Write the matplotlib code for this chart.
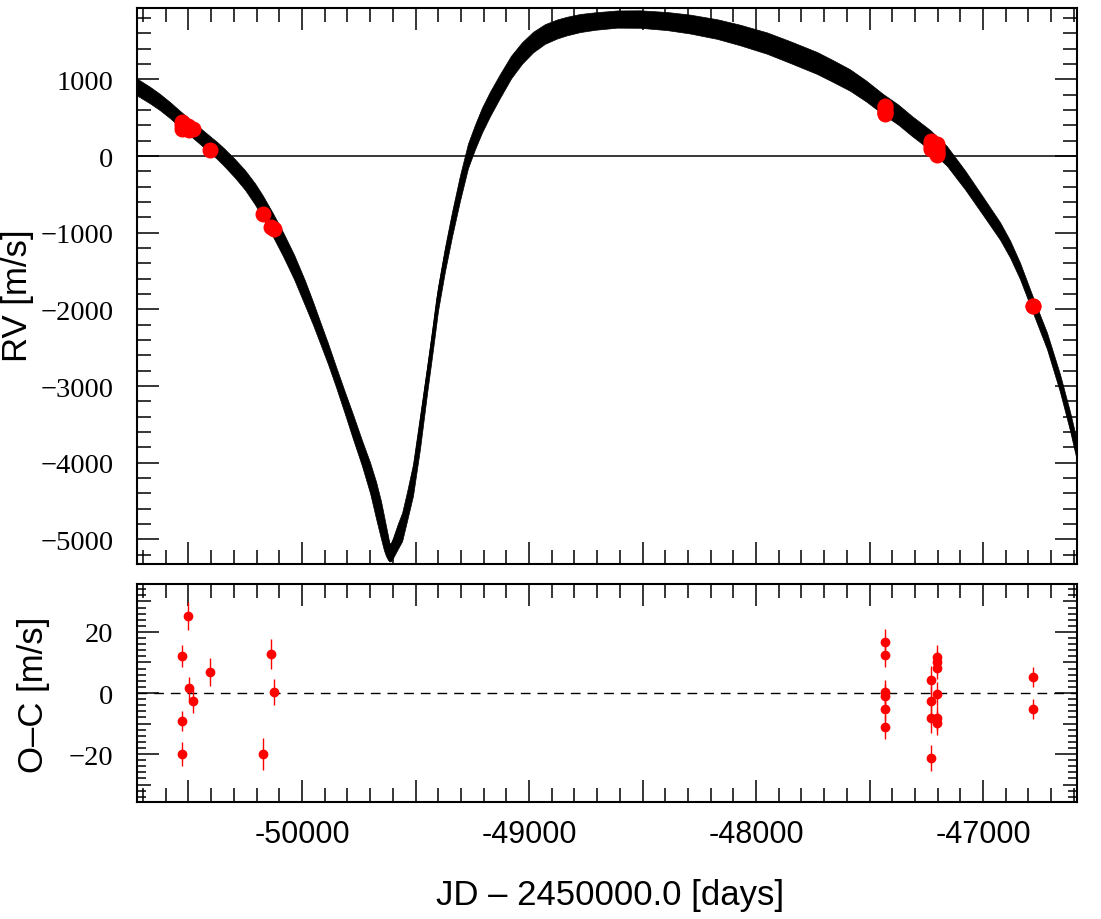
import matplotlib
matplotlib.use("Agg")
import matplotlib.pyplot as plt
from matplotlib.ticker import MultipleLocator, FixedLocator, FuncFormatter
import numpy as np

plt.rcParams['font.family'] = ['Liberation Sans', 'DejaVu Sans']

# ---- model curve: JD-2450000, RV centre, spread (half width) ----
model_jd = [-50727, -50670, -50626, -50582, -50537, -50493, -50449, -50405, -50374, -50344,
            -50295, -50251, -50207, -50172, -50128, -50084, -50035, -49987, -49952, -49921,
            -49885, -49850, -49811, -49775, -49736, -49700, -49674, -49652, -49639, -49630,
            -49621, -49615, -49608, -49599, -49590, -49577, -49559, -49537, -49511, -49480,
            -49449, -49423, -49401, -49370, -49339, -49304, -49269, -49238, -49207, -49172,
            -49128, -49079, -49031, -48982, -48930, -48877, -48833, -48775, -48709, -48612,
            -48511, -48392, -48291, -48172, -48070, -47952, -47850, -47731, -47661, -47586,
            -47515, -47441, -47374, -47313, -47233, -47159, -47079, -47000, -46925, -46881,
            -46837, -46780, -46718, -46661, -46617, -46586]
model_rv = [900, 795, 704, 600, 482, 372, 261, 150, 72, -13,
            -163, -313, -495, -665, -900, -1147, -1447, -1786, -2047, -2295,
            -2582, -2881, -3220, -3533, -3872, -4198, -4485, -4746, -4915, -5020,
            -5111, -5170, -5163, -5111, -5046, -4954, -4837, -4563, -4224, -3598,
            -2921, -2360, -1864, -1343, -887, -417, 0, 248, 469, 678,
            913, 1160, 1343, 1486, 1591, 1656, 1695, 1734, 1760, 1786,
            1786, 1760, 1721, 1656, 1578, 1473, 1356, 1213, 1108, 991,
            848, 678, 541, 391, 209, 0, -313, -652, -978, -1213,
            -1499, -1943, -2412, -2960, -3455, -3846]
model_spread = [110, 108, 106, 105, 105, 105, 106, 108, 111, 115,
                121, 128, 138, 146, 152, 156, 160, 162, 150, 142,
                136, 133, 143, 160, 166, 200, 240, 245, 225, 196,
                156, 117, 120, 130, 145, 165, 185, 190, 205, 215,
                170, 163, 156, 156, 160, 165, 160, 160, 162, 160,
                155, 148, 140, 134, 128, 124, 121, 118, 114, 112,
                114, 118, 123, 128, 134, 139, 142, 143, 142, 140,
                136, 132, 131, 130, 130, 128, 123, 118, 114, 111,
                107, 103, 107, 115, 123, 130]

# ---- observations ----
obs_jd = [-50529, -50529, -50529, -50502, -50498, -50480, -50405, -50172, -50137, -50123,
          -47432, -47432, -47432, -47432, -47432, -47432,
          -47229, -47229, -47229, -47229,
          -47203, -47203, -47203, -47203, -47203, -47203,
          -46780, -46780]
obs_rv = [443, 404, 352, 391, 339, 352, 78, -756, -926, -952,
          652, 639, 600, 574, 561, 548,
          196, 156, 117, 91,
          156, 117, 78, 52, 26, 13,
          -1956, -1950]
obs_oc = [12.1, -9.2, -20.0, 25.2, 1.6, -2.6, 6.9, -20.0, 12.8, 0.3,
          16.7, 12.5, 0.3, -1.0, -5.2, -11.1,
          4.3, -2.6, -8.2, -21.3,
          11.8, 10.2, 8.2, -0.3, -8.2, -9.8,
          5.2, -5.2]
obs_err = [3.5, 3.3, 4.0, 4.6, 3.8, 3.8, 4.5, 5.1, 4.9, 4.3,
           4.4, 4.0, 4.0, 4.0, 3.8, 4.0,
           4.4, 5.0, 5.0, 4.4,
           4.0, 3.5, 3.5, 4.0, 4.0, 4.0,
           3.3, 3.3]

x_range = (-50727, -46586)
rv_range = (-5320, 1930)
oc_range = (-35.7, 35.7)

fig = plt.figure(figsize=(11.01, 9.20), dpi=100)
ax1 = fig.add_axes([0.1244, 0.3859, 0.8538, 0.6043])
ax2 = fig.add_axes([0.1244, 0.1272, 0.8538, 0.2369])

mj = np.array(model_jd, float)
mr = np.array(model_rv, float)
ms = np.array(model_spread, float)

ax1.axhline(0, color='black', lw=1.1, zorder=1)
ax1.fill_between(mj, mr - ms, mr + ms, color='black', lw=0.5, edgecolor='black', zorder=2)
ax1.plot(mj, mr, color='black', lw=2.3, solid_joinstyle='round', zorder=2)
# the band is broader around the periastron dip
dip = (mj > -49800) & (mj < -49540)
ax1.plot(mj[dip], mr[dip], color='black', lw=4.6, solid_joinstyle='round',
         solid_capstyle='round', zorder=2)
ax1.plot(obs_jd, obs_rv, 'o', color='#ff0000', mec='#ff0000', ms=10.5, zorder=3)

ax2.axhline(0, color='black', lw=1.0, ls=(0, (7, 5)), zorder=1)
ax2.errorbar(obs_jd, obs_oc, yerr=obs_err, fmt='o', color='#ff0000', mec='#ff0000',
             ms=6, elinewidth=1.0, capsize=0, zorder=3)

ax1.set_xlim(*x_range)
ax2.set_xlim(*x_range)
ax1.set_ylim(*rv_range)
ax2.set_ylim(*oc_range)


def minus_fmt(v, p):
    return f"{int(round(v))}".replace('-', '\u2212')


def x_fmt(v, p):
    iv = int(round(v))
    return f"{iv}" if iv % 1000 == 0 else ""


for ax in (ax1, ax2):
    ax.xaxis.set_major_locator(MultipleLocator(500))
    ax.xaxis.set_minor_locator(MultipleLocator(100))
    for s in ax.spines.values():
        s.set_linewidth(1.5)
    ax.tick_params(which='both', direction='in', top=True, right=True, width=1.1)
    ax.tick_params(which='major', length=15.8)
    ax.tick_params(which='minor', length=10)
    ax.tick_params(axis='y', which='both', labelsize=20.5, pad=17,
                   labelfontfamily='Liberation Serif')

ax1.tick_params(axis='x', labelbottom=False)
ax2.xaxis.set_major_formatter(FuncFormatter(x_fmt))
ax2.tick_params(axis='x', labelsize=22, pad=12)

ax1.yaxis.set_major_locator(MultipleLocator(1000))
ax1.yaxis.set_minor_locator(MultipleLocator(200))
ax1.yaxis.set_major_formatter(FuncFormatter(minus_fmt))

ax2.yaxis.set_major_locator(MultipleLocator(20))
minor_locs = [v for v in range(-34, 35, 2) if v % 20 != 0]
ax2.yaxis.set_minor_locator(FixedLocator(minor_locs))
ax2.yaxis.set_major_formatter(FuncFormatter(minus_fmt))
mticks = ax2.yaxis.get_minor_ticks(len(minor_locs))
for t, v in zip(mticks, minor_locs):
    L = 10 if v % 10 == 0 else 6.3
    t.tick1line.set_markersize(L)
    t.tick2line.set_markersize(L)

fig.text(0.0155, 0.679, 'RV [m/s]', rotation=90, ha='center', va='center', fontsize=25)
fig.text(0.030, 0.245, 'O\u2013C [m/s]', rotation=90, ha='center', va='center', fontsize=25)
fig.text(0.554, 0.027, 'JD \u2013 2450000.0 [days]', ha='center', va='center', fontsize=25)

fig.savefig('out.png', dpi=100)
